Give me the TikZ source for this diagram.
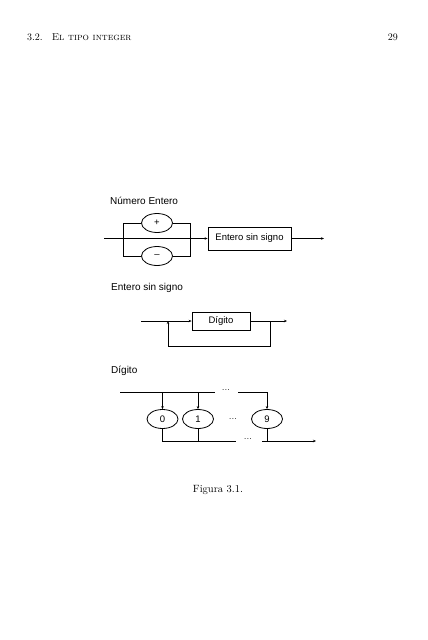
\documentclass[tikz,border=0pt]{standalone}
\usepackage{fontspec}
\newfontfamily\diagfont{Liberation Sans}
\usetikzlibrary{shapes.geometric,arrows.meta}
\begin{document}
\begin{tikzpicture}[x=1pt,y=-1pt,
  lbl/.style={font=\diagfont\fontsize{10}{12}\selectfont, inner sep=0pt},
  oval/.style={draw, ellipse, line width=0.8pt, minimum width=31pt, minimum height=19pt, inner sep=0pt, font=\diagfont\fontsize{9.5}{11}\selectfont},
  boxn/.style={draw, rectangle, line width=0.8pt, inner sep=0pt, font=\diagfont\fontsize{9.5}{11}\selectfont},
  ln/.style={line width=0.8pt},
  arr/.style={ln, -{Stealth[length=3pt,width=2.5pt]}},
  dots/.style={font=\diagfont\fontsize{8}{9}\selectfont, inner sep=0pt}
]
\useasboundingbox (0,0) rectangle (428,640);
% header and caption
\node[anchor=base west, inner sep=0pt, font=\fontsize{10}{12}\selectfont] (hdr) at (27,40) {3.2.\hspace{0.9em}\textsc{El tipo integer}};
\node[anchor=base east, inner sep=0pt, font=\fontsize{10}{12}\selectfont] (pg) at (398,40) {29};
\node[anchor=base, inner sep=0pt, font=\fontsize{10.5}{12}\selectfont] (cap) at (218,492) {Figura 3.1.};

% ---- Numero Entero
\node[lbl, anchor=base west] (t1) at (110,204) {Número Entero};
\node[oval] (plus) at (157,223) {+};
\node[oval] (minus) at (157,256) {–};
\node[boxn, minimum width=83pt, minimum height=23pt] (esn) at (249.5,238.5) {Entero sin signo};
\coordinate (a0) at (104,238.5);
\coordinate (j1) at (123,238.5);
\coordinate (j2) at (190,238.5);
\coordinate (a1) at (324,238.5);
\draw[arr] (a0) -- (esn.west);
\draw[ln] (j1) |- (plus.west);
\draw[ln] (plus.east) -| (j2);
\draw[ln] (j1) |- (minus.west);
\draw[ln] (minus.east) -| (j2);
\draw[arr] (esn.east) -- (a1);

% ---- Entero sin signo
\node[lbl, anchor=base west] (t2) at (111,290) {Entero sin signo};
\node[boxn, minimum width=58pt, minimum height=18pt] (dig) at (221,321) {Dígito};
\coordinate (b0) at (141,321);
\coordinate (b1) at (287,321);
\coordinate (l1) at (168,321);
\coordinate (l2) at (270,321);
\coordinate (l3) at (168,346);
\coordinate (l4) at (270,346);
\draw[arr] (b0) -- (dig.west);
\draw[arr] (dig.east) -- (b1);
\draw[arr] (l2) -- (l4) -- (l3) -- (l1);

% ---- Digito
\node[lbl, anchor=base west] (t3) at (111,373) {Dígito};
\node[oval] (n0) at (162.5,419) {0};
\node[oval] (n1) at (198,419) {1};
\node[oval] (n9) at (267,419) {9};
\node[dots] (dm) at (233,419) {{.}\kern0.5pt{.}\kern0.5pt{.}};
\node[dots] (dt) at (226,390) {{.}\kern0.5pt{.}\kern0.5pt{.}};
\node[dots] (db) at (248,439) {{.}\kern0.5pt{.}\kern0.5pt{.}};
\coordinate (c0) at (120,392);
\coordinate (c1) at (215,392);
\coordinate (c2) at (238,392);
\coordinate (c3) at (267,392);
\coordinate (k0) at (162.5,392);
\coordinate (k1) at (198,392);
\coordinate (d0) at (162.5,441);
\coordinate (d1) at (236,441);
\coordinate (d2) at (262,441);
\coordinate (d3) at (316,441);
\coordinate (e1) at (198,441);
\coordinate (e9) at (267,441);
\draw[ln] (c0) -- (c1);
\draw[ln] (c2) -- (c3);
\draw[arr] (c3) -- (n9.north);
\draw[arr] (k0) -- (n0.north);
\draw[arr] (k1) -- (n1.north);
\draw[ln] (n0.south) -- (d0) -- (d1);
\draw[ln] (n1.south) -- (e1);
\draw[ln] (n9.south) -- (e9);
\draw[arr] (d2) -- (d3);
\end{tikzpicture}
\end{document}
